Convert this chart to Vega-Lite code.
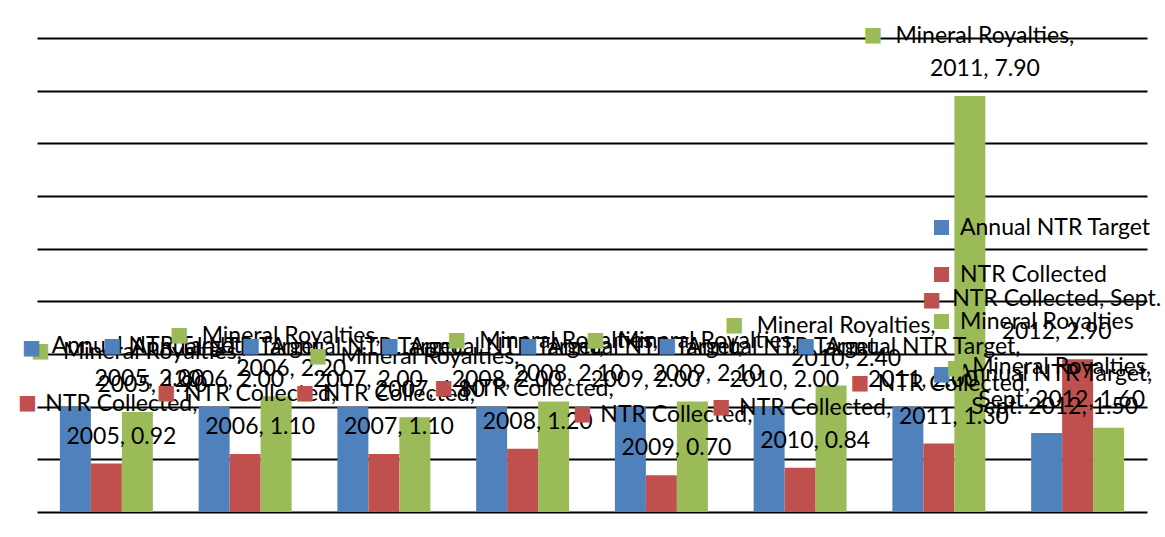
{
  "$schema": "https://vega.github.io/schema/vega-lite/v6.json",
  "width": 1110,
  "height": 474,
  "autosize": {"type": "none"},
  "padding": {"left": 37, "top": 38, "right": 18, "bottom": 25},
  "background": "white",
  "config": {
    "view": {"stroke": null},
    "font": "Lato",
    "axis": {"labels": false, "ticks": false, "domain": false, "title": null},
    "axisY": {"grid": true, "gridColor": "#000000", "gridWidth": 1.8, "gridOpacity": 1},
    "axisX": {"grid": false},
    "text": {"fontSize": 23, "lineHeight": 33, "lineBreak": "\n", "color": "#000000", "baseline": "alphabetic", "align": "center"}
  },
  "data": {
    "values": [
      {"category": "2005", "series": "Annual NTR Target", "value": 2.0, "label": "Annual NTR Target,\n2005,  2.00"},
      {"category": "2005", "series": "NTR Collected", "value": 0.92, "label": "NTR Collected,\n2005,  0.92"},
      {"category": "2005", "series": "Mineral Royalties", "value": 1.9, "label": "Mineral Royalties,\n2005,  1.90"},
      {"category": "2006", "series": "Annual NTR Target", "value": 2.0, "label": "Annual NTR Target,\n2006,  2.00"},
      {"category": "2006", "series": "NTR Collected", "value": 1.1, "label": "NTR Collected,\n2006,  1.10"},
      {"category": "2006", "series": "Mineral Royalties", "value": 2.2, "label": "Mineral Royalties,\n2006,  2.20"},
      {"category": "2007", "series": "Annual NTR Target", "value": 2.0, "label": "Annual NTR Target,\n2007,  2.00"},
      {"category": "2007", "series": "NTR Collected", "value": 1.1, "label": "NTR Collected,\n2007,  1.10"},
      {"category": "2007", "series": "Mineral Royalties", "value": 1.8, "label": "Mineral Royalties,\n2007,  1.80"},
      {"category": "2008", "series": "Annual NTR Target", "value": 2.0, "label": "Annual NTR Target,\n2008,  2.00"},
      {"category": "2008", "series": "NTR Collected", "value": 1.2, "label": "NTR Collected,\n2008,  1.20"},
      {"category": "2008", "series": "Mineral Royalties", "value": 2.1, "label": "Mineral Royalties,\n2008,  2.10"},
      {"category": "2009", "series": "Annual NTR Target", "value": 2.0, "label": "Annual NTR Target,\n2009,  2.00"},
      {"category": "2009", "series": "NTR Collected", "value": 0.7, "label": "NTR Collected,\n2009,  0.70"},
      {"category": "2009", "series": "Mineral Royalties", "value": 2.1, "label": "Mineral Royalties,\n2009,  2.10"},
      {"category": "2010", "series": "Annual NTR Target", "value": 2.0, "label": "Annual NTR Target,\n2010,  2.00"},
      {"category": "2010", "series": "NTR Collected", "value": 0.84, "label": "NTR Collected,\n2010,  0.84"},
      {"category": "2010", "series": "Mineral Royalties", "value": 2.4, "label": "Mineral Royalties,\n2010,  2.40"},
      {"category": "2011", "series": "Annual NTR Target", "value": 2.0, "label": "Annual NTR Target,\n2011,  2.00"},
      {"category": "2011", "series": "NTR Collected", "value": 1.3, "label": "NTR Collected,\n2011,  1.30"},
      {"category": "2011", "series": "Mineral Royalties", "value": 7.9, "label": "Mineral Royalties,\n2011,  7.90"},
      {"category": "Sept. 2012", "series": "Annual NTR Target", "value": 1.5, "label": "Annual NTR Target,\nSept. 2012,  1.50"},
      {"category": "Sept. 2012", "series": "NTR Collected", "value": 2.9, "label": "NTR Collected, Sept.\n2012,  2.90"},
      {"category": "Sept. 2012", "series": "Mineral Royalties", "value": 1.6, "label": "Mineral Royalties,\nSept. 2012,  1.60"}
    ]
  },
  "encoding": {
    "x": {"field": "category", "type": "nominal", "sort": null,
          "scale": {"paddingInner": 0.33, "paddingOuter": 0.165}},
    "xOffset": {"field": "series", "type": "nominal",
                "sort": ["Annual NTR Target", "NTR Collected", "Mineral Royalties"]},
    "y": {"field": "value", "type": "quantitative",
          "scale": {"domain": [0, 9], "nice": false}, "axis": {"values": [0,1,2,3,4,5,6,7,8,9]}}
  },
  "layer": [
    {
      "mark": {"type": "bar"},
      "encoding": {
        "color": {"field": "series", "type": "nominal",
                  "scale": {"domain": ["Annual NTR Target", "NTR Collected", "Mineral Royalties"],
                            "range": ["#4F81BD", "#C0504D", "#9BBB59"]},
                  "legend": {"title": null, "orient": "none", "legendX": 893, "legendY": 178,
                             "symbolType": "square", "symbolSize": 225, "symbolStrokeWidth": 0,
                             "labelFontSize": 23, "labelFont": "Lato", "labelColor": "#000000",
                             "labelOffset": 7, "rowPadding": 23, "labelLimit": 400}}
      }
    },
    {
      "transform": [{"filter": "!((datum.series === 'Annual NTR Target' && datum.category === '2005') || datum.category === 'Sept. 2012')"}],
      "mark": {"type": "text", "dx": 15, "dy": -53},
      "encoding": {"text": {"field": "label", "type": "nominal"}}
    },
    {
      "transform": [{"filter": "datum.series === 'Annual NTR Target' && datum.category === '2005'"}],
      "mark": {"type": "text", "dx": 74, "dy": -54},
      "encoding": {"text": {"field": "label", "type": "nominal"}}
    },
    {
      "transform": [{"filter": "datum.series === 'NTR Collected' && datum.category === 'Sept. 2012'"}],
      "mark": {"type": "text", "dx": -21, "dy": -53},
      "encoding": {"text": {"field": "label", "type": "nominal"}}
    },
    {
      "transform": [{"filter": "datum.series === 'Annual NTR Target' && datum.category === 'Sept. 2012'"}],
      "mark": {"type": "text", "dx": 8, "dy": -52},
      "encoding": {"text": {"field": "label", "type": "nominal"}}
    },
    {
      "transform": [{"filter": "datum.series === 'Mineral Royalties' && datum.category === 'Sept. 2012'"}],
      "mark": {"type": "text", "dx": -47, "dy": -54},
      "encoding": {"text": {"field": "label", "type": "nominal"}}
    },
    {
      "transform": [{"filter": "datum.series === 'Annual NTR Target' && datum.category !== '2005' && datum.category !== 'Sept. 2012'"}],
      "mark": {"type": "text", "font": "DejaVu Sans", "fontSize": 20, "baseline": "middle", "dx": -102, "dy": -61, "color": "#4F81BD"},
      "encoding": {"text": {"value": "■"}}
    },
    {
      "transform": [{"filter": "datum.series === 'NTR Collected' && datum.category !== 'Sept. 2012'"}],
      "mark": {"type": "text", "font": "DejaVu Sans", "fontSize": 20, "baseline": "middle", "dx": -79, "dy": -61, "color": "#C0504D"},
      "encoding": {"text": {"value": "■"}}
    },
    {
      "transform": [{"filter": "datum.series === 'Mineral Royalties' && datum.category !== 'Sept. 2012'"}],
      "mark": {"type": "text", "font": "DejaVu Sans", "fontSize": 20, "baseline": "middle", "dx": -97, "dy": -61, "color": "#9BBB59"},
      "encoding": {"text": {"value": "■"}}
    },
    {
      "transform": [{"filter": "datum.series === 'Annual NTR Target' && datum.category === '2005'"}],
      "mark": {"type": "text", "font": "DejaVu Sans", "fontSize": 20, "baseline": "middle", "dx": -44, "dy": -59, "color": "#4F81BD"},
      "encoding": {"text": {"value": "■"}}
    },
    {
      "transform": [{"filter": "datum.series === 'NTR Collected' && datum.category === 'Sept. 2012'"}],
      "mark": {"type": "text", "font": "DejaVu Sans", "fontSize": 20, "baseline": "middle", "dx": -146, "dy": -59, "color": "#C0504D"},
      "encoding": {"text": {"value": "■"}}
    },
    {
      "transform": [{"filter": "datum.series === 'Annual NTR Target' && datum.category === 'Sept. 2012'"}],
      "mark": {"type": "text", "font": "DejaVu Sans", "fontSize": 20, "baseline": "middle", "dx": -105, "dy": -59, "color": "#4F81BD"},
      "encoding": {"text": {"value": "■"}}
    },
    {
      "transform": [{"filter": "datum.series === 'Mineral Royalties' && datum.category === 'Sept. 2012'"}],
      "mark": {"type": "text", "font": "DejaVu Sans", "fontSize": 20, "baseline": "middle", "dx": -153, "dy": -60, "color": "#9BBB59"},
      "encoding": {"text": {"value": "■"}}
    }
  ]
}
